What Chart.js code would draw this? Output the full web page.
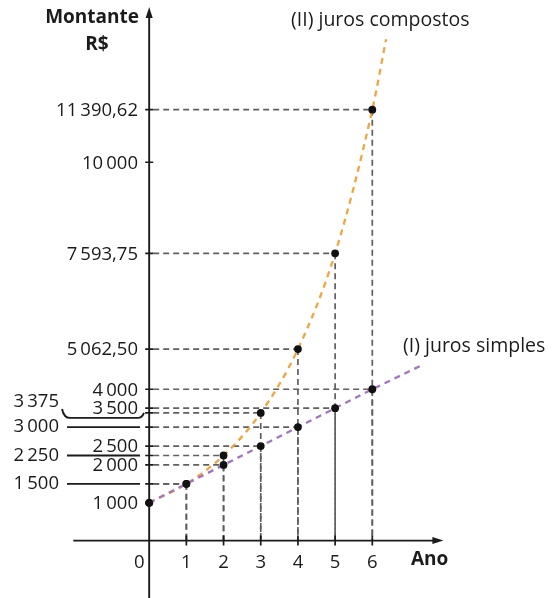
<!DOCTYPE html>
<html>
<head>
<meta charset="utf-8">
<script src="https://cdn.jsdelivr.net/npm/chart.js@4.4.1/dist/chart.umd.min.js"></script>
<style>
html,body{margin:0;padding:0;background:#fff;}
#wrap{width:556px;height:598px;position:relative;}
</style>
</head>
<body>
<div id="wrap"><canvas id="c" width="556" height="598"></canvas></div>
<script>
// ---- data ----
const years = [0, 1, 2, 3, 4, 5, 6];
const compound = [1000, 1500, 2250, 3375, 5062.5, 7593.75, 11390.62];
const simple = [1000, 1500, 2000, 2500, 3000, 3500, 4000];
// where each dashed curve ends beyond the last year
const compoundEndX = 6.37, compoundEndY = 13250;
const simpleEndX = 7.36, simpleEndY = 4650;
// x tick labels
const xTicks = [0, 1, 2, 3, 4, 5, 6];
// y labels next to the axis
const yRightValues = [1000, 2000, 2500, 3500, 4000, 5062.5, 7593.75, 10000, 11390.62];
const yRightLabels = ['1\u2009000', '2\u2009000', '2\u2009500', '3\u2009500', '4\u2009000', '5\u2009062,50', '7\u2009593,75', '10\u2009000', '11\u2009390,62'];
// y labels far left, with leader lines
const yLeftValues = [1500, 2250, 3000, 3375];
const yLeftLabels = ['1\u2009500', '2\u2009250', '3\u2009000', '3\u2009375'];
const seriesNames = ['(II) juros compostos', '(I) juros simples'];
const axisTitles = ['Montante', 'R$', 'Ano'];

const FONT = '"Open Sans", "Noto Sans", sans-serif';
const ORANGE = '#f4a43c';
const PURPLE = '#a374bd';
const GRID = '#5f5f5f';
const INK = '#1b1b1b';

const compoundPts = years.map((x, i) => ({x, y: compound[i]})).concat([{x: compoundEndX, y: compoundEndY}]);
const simplePts = years.map((x, i) => ({x, y: simple[i]})).concat([{x: simpleEndX, y: simpleEndY}]);

const drawPlugin = {
  id: 'drawing',
  beforeDatasetsDraw(chart) {
    const ctx = chart.ctx;
    const xs = chart.scales.x, ys = chart.scales.y;
    const X = v => xs.getPixelForValue(v);
    const Y = v => ys.getPixelForValue(v);
    const x0 = X(0), y0 = Y(0);
    ctx.save();
    // dashed guide lines
    ctx.strokeStyle = GRID;
    ctx.lineWidth = 1.7;
    ctx.setLineDash([6, 4]);
    [compound, simple].forEach(arr => {
      years.forEach((yr, i) => {
        if (yr === 0) return;
        const px = X(yr), py = Y(arr[i]);
        ctx.beginPath();
        ctx.moveTo(x0 + 4, py); ctx.lineTo(px, py);
        ctx.moveTo(px, py); ctx.lineTo(px, y0);
        ctx.stroke();
      });
    });
    ctx.setLineDash([]);
    // axes
    ctx.strokeStyle = INK;
    ctx.fillStyle = INK;
    ctx.lineWidth = 1.9;
    ctx.beginPath();
    ctx.moveTo(x0, chart.height); ctx.lineTo(x0, 14);
    ctx.moveTo(X(-2.04), y0); ctx.lineTo(X(7.75), y0);
    ctx.stroke();
    // arrow heads
    ctx.beginPath();
    ctx.moveTo(x0, 7); ctx.lineTo(x0 - 3.5, 18); ctx.lineTo(x0 + 3.5, 18); ctx.closePath(); ctx.fill();
    const xe = X(7.75) + 6;
    ctx.beginPath();
    ctx.moveTo(xe, y0); ctx.lineTo(xe - 11, y0 - 3.5); ctx.lineTo(xe - 11, y0 + 3.5); ctx.closePath(); ctx.fill();
    // x ticks
    ctx.lineWidth = 1.7;
    ctx.beginPath();
    xTicks.forEach(t => { if (t === 0) return; ctx.moveTo(X(t), y0 - 5); ctx.lineTo(X(t), y0 + 5); });
    // y ticks
    yRightValues.concat(yLeftValues).forEach(v => { ctx.moveTo(x0 - 4, Y(v)); ctx.lineTo(x0 + 4, Y(v)); });
    ctx.stroke();
    // leader lines for left labels
    ctx.lineWidth = 1.9;
    ctx.beginPath();
    yLeftValues.forEach(v => {
      const py = Y(v);
      if (v === 3375) {
        const by = py + 5;
        ctx.moveTo(62, by - 9);
        ctx.quadraticCurveTo(64, by, 70, by);
        ctx.lineTo(138, by);
        ctx.quadraticCurveTo(142, by, 144, py);
      } else {
        ctx.moveTo(67, py); ctx.lineTo(140, py);
      }
    });
    ctx.stroke();
    // text
    ctx.font = '18.5px ' + FONT;
    ctx.textBaseline = 'middle';
    ctx.textAlign = 'right';
    yRightValues.forEach((v, i) => ctx.fillText(yRightLabels[i], 138, Y(v) + 1));
    yLeftValues.forEach((v, i) => {
      const off = v === 3375 ? -11 : 0;
      ctx.fillText(yLeftLabels[i], 59, Y(v) + off);
    });
    ctx.textAlign = 'center';
    xTicks.forEach(t => {
      const px = t === 0 ? X(0) - 10 : X(t);
      ctx.fillText(String(t), px, y0 + 22);
    });
    ctx.font = '19.5px ' + FONT;
    ctx.textAlign = 'left';
    ctx.fillText(seriesNames[0], 291, 20);
    ctx.fillText(seriesNames[1], 403, 346);
    ctx.font = 'bold 19px ' + FONT;
    ctx.textAlign = 'right';
    ctx.fillText(axisTitles[0], 139, 18);
    ctx.textAlign = 'center';
    ctx.fillText(axisTitles[1], 97, 45);
    ctx.textAlign = 'left';
    ctx.fillText(axisTitles[2], 411, y0 + 19);
    ctx.restore();
  }
};

const pointR = c => (c.dataIndex < years.length ? 3.9 : 0);

new Chart(document.getElementById('c'), {
  type: 'line',
  data: {
    datasets: [
      {
        label: seriesNames[0],
        data: compoundPts,
        borderColor: ORANGE,
        borderWidth: 2.3,
        borderDash: [6, 5],
        cubicInterpolationMode: 'monotone',
        pointRadius: pointR,
        pointBackgroundColor: '#111',
        pointBorderWidth: 0,
        clip: false,
        order: 1
      },
      {
        label: seriesNames[1],
        data: simplePts,
        borderColor: PURPLE,
        borderWidth: 2.3,
        borderDash: [6, 5],
        tension: 0,
        pointRadius: pointR,
        pointBackgroundColor: '#111',
        pointBorderWidth: 0,
        clip: false,
        order: 0
      }
    ]
  },
  options: {
    responsive: false,
    animation: false,
    events: [],
    layout: {padding: 0},
    plugins: {legend: {display: false}, tooltip: {enabled: false}},
    scales: {
      x: {type: 'linear', min: -3.904, max: 10.832, display: false},
      y: {type: 'linear', min: -1411, max: 14183, display: false}
    }
  },
  plugins: [drawPlugin]
});
</script>
</body>
</html>
